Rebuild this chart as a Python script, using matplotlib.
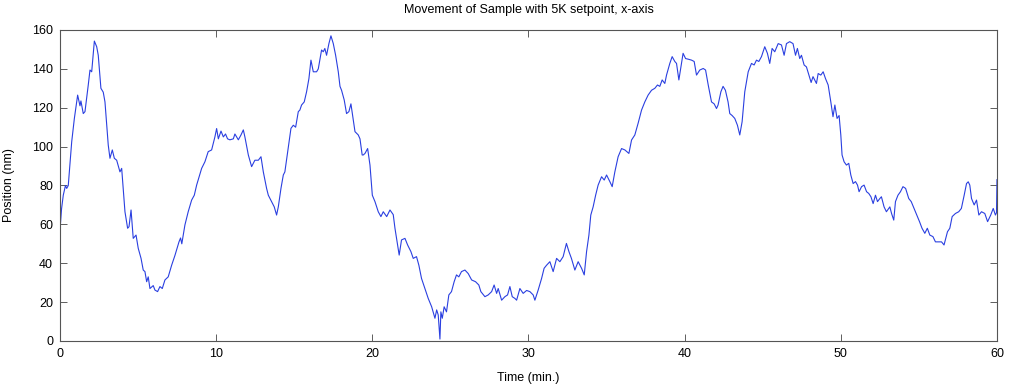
import matplotlib
matplotlib.use("Agg")
import matplotlib.pyplot as plt

# values
time_min = [
    0.00, 0.10, 0.21, 0.35, 0.43, 0.53, 0.75, 0.92, 1.13, 1.28, 1.34, 1.49, 1.60, 1.81, 1.92, 2.03,
    2.20, 2.35, 2.45, 2.62, 2.77, 2.88, 2.99, 3.09, 3.20, 3.35, 3.48, 3.63, 3.84, 3.95, 4.05, 4.16,
    4.33, 4.42, 4.55, 4.69, 4.87, 5.01, 5.19, 5.33, 5.44, 5.55, 5.65, 5.76, 5.97, 6.08, 6.25, 6.40,
    6.55, 6.72, 6.93, 7.15, 7.36, 7.62, 7.72, 7.80, 8.00, 8.21, 8.43, 8.60, 8.75, 9.07, 9.28, 9.49,
    9.71, 9.92, 10.03, 10.14, 10.31, 10.46, 10.60, 10.73, 10.88, 11.10, 11.20, 11.42, 11.59, 11.74,
    11.84, 12.06, 12.27, 12.48, 12.70, 12.87, 13.02, 13.23, 13.34, 13.55, 13.72, 13.87, 13.98, 14.15,
    14.30, 14.40, 14.58, 14.79, 14.94, 15.09, 15.26, 15.36, 15.47, 15.64, 15.79, 15.94, 16.07, 16.22,
    16.43, 16.54, 16.75, 16.86, 16.96, 17.07, 17.22, 17.35, 17.50, 17.65, 17.82, 17.93, 18.03, 18.20,
    18.35, 18.50, 18.63, 18.78, 18.89, 19.10, 19.21, 19.35, 19.42, 19.53, 19.70, 19.85, 20.00, 20.17,
    20.38, 20.55, 20.70, 20.92, 21.13, 21.34, 21.45, 21.62, 21.72, 21.87, 22.09, 22.26, 22.47, 22.62,
    22.83, 22.98, 23.15, 23.37, 23.58, 23.80, 24.01, 24.12, 24.22, 24.33, 24.39, 24.48, 24.60, 24.75,
    24.90, 25.07, 25.24, 25.39, 25.54, 25.71, 25.93, 26.14, 26.36, 26.61, 26.82, 26.95, 27.21, 27.42,
    27.64, 27.80, 27.96, 28.06, 28.28, 28.49, 28.66, 28.81, 28.96, 29.13, 29.24, 29.45, 29.66, 29.88,
    30.09, 30.30, 30.41, 30.62, 30.84, 31.00, 31.16, 31.37, 31.58, 31.80, 32.01, 32.22, 32.43, 32.59,
    32.75, 32.97, 33.18, 33.40, 33.57, 33.72, 33.87, 33.99, 34.14, 34.30, 34.46, 34.68, 34.85, 35.00,
    35.21, 35.36, 35.53, 35.74, 35.96, 36.17, 36.43, 36.60, 36.81, 37.02, 37.24, 37.45, 37.66, 37.88,
    38.09, 38.26, 38.41, 38.56, 38.73, 38.84, 39.05, 39.20, 39.37, 39.48, 39.63, 39.76, 39.90, 40.06,
    40.22, 40.44, 40.61, 40.76, 40.97, 41.19, 41.34, 41.51, 41.72, 41.89, 42.04, 42.14, 42.32, 42.46,
    42.61, 42.78, 42.89, 43.04, 43.21, 43.38, 43.53, 43.68, 43.85, 44.07, 44.28, 44.45, 44.60, 44.75,
    44.92, 45.13, 45.30, 45.45, 45.60, 45.77, 45.99, 46.20, 46.37, 46.52, 46.73, 46.94, 47.10, 47.22,
    47.37, 47.48, 47.65, 47.80, 47.95, 48.10, 48.22, 48.33, 48.44, 48.55, 48.72, 48.87, 49.02, 49.19,
    49.36, 49.50, 49.62, 49.76, 49.89, 50.00, 50.08, 50.21, 50.36, 50.51, 50.64, 50.79, 50.94, 51.07,
    51.17, 51.33, 51.49, 51.65, 51.79, 51.93, 52.07, 52.22, 52.35, 52.50, 52.60, 52.77, 52.92, 53.14,
    53.25, 53.39, 53.50, 53.66, 53.82, 53.98, 54.15, 54.35, 54.51, 54.69, 54.90, 55.04, 55.20, 55.38,
    55.54, 55.70, 55.90, 56.06, 56.23, 56.45, 56.61, 56.83, 56.98, 57.13, 57.34, 57.55, 57.72, 57.90,
    58.05, 58.16, 58.26, 58.37, 58.54, 58.69, 58.84, 59.01, 59.22, 59.40, 59.60, 59.76, 59.90, 59.97,
    60.00,
]
position_nm = [
    57, 68, 75, 80, 78.5, 80, 102.5, 114.5, 126.5, 121, 123.5, 117, 118, 131.7, 139.4, 138.5,
    154.3, 151.4, 147, 130, 128, 123, 111, 100.8, 94, 98.3, 94, 93, 87, 88.8, 78.5, 66.5,
    58, 58.8, 67.4, 52.8, 54.5, 47.7, 42.5, 36.5, 35.7, 30.5, 33, 27, 28.5, 26.2, 25.4, 28,
    27, 31.4, 33, 39, 44, 51, 53, 50, 59.7, 66.5, 72.5, 75, 80.2, 88.8, 92.2, 97.4,
    98.3, 105, 109.3, 104, 108, 105, 106.5, 104, 103.5, 104, 106.5, 103.5, 106, 108.6,
    105, 95.7, 89.7, 93, 93, 94.8, 87, 78.5, 75, 71.7, 69, 64.8, 69, 78.5,
    85.4, 87, 97.4, 109.4, 111, 110, 118, 118.8, 121.4, 123, 128.2, 135, 144.5, 138.5,
    138.5, 140, 149.7, 148.8, 150.5, 147, 153, 157, 153, 147, 138.5, 131, 129, 124,
    117, 118, 122, 113.7, 107.7, 106, 104, 95.7, 95.7, 96.5, 99, 90.5, 75, 71.7,
    66.5, 64, 66.5, 64, 67.4, 65, 58, 49.4, 44.2, 52, 52.8, 49.4, 46, 42.5,
    43.4, 39, 32.2, 27, 21.9, 17.6, 11.7, 16, 13.4, 1, 15, 11.7, 17.6, 15,
    23.7, 25.4, 30.5, 34, 33, 35.7, 36.5, 34.7, 31.4, 30.5, 28.8, 25.4, 22.8, 23.7,
    25.4, 28.8, 24.5, 27, 21, 22.8, 23.7, 28, 22.8, 21.9, 21, 27, 24.5, 26,
    25.4, 23.7, 21, 26.2, 32.2, 37.4, 39, 40.8, 35.7, 42.5, 40.8, 43.4, 50.2, 46,
    42.5, 36.5, 40.8, 37.4, 34, 46, 54.5, 64.8, 69, 75, 80.2, 84.5, 82.8, 85.4,
    82, 79.4, 87, 94.8, 99, 98.3, 96.5, 103.4, 106, 112, 118.8, 123, 126.5, 129,
    130, 131.7, 131, 134.3, 132.5, 136.8, 142.8, 146.3, 143.8, 142.8, 134.3, 141, 148, 145.3,
    145, 144.5, 143.8, 136.8, 139.4, 140.2, 139.4, 131.7, 123, 122, 119.6, 121.4, 128.2, 131,
    129, 123, 117, 116, 114.5, 111, 106, 112.8, 128.2, 138.5, 142.8, 142, 144.5, 143.8,
    146.3, 151.4, 148, 142.8, 150.5, 148.8, 153, 152.3, 147, 153, 154, 153, 147, 150.5,
    145.3, 147, 142, 141, 137, 133, 136, 134.3, 132.5, 137.6, 136.8, 138.5, 135, 131.7,
    123, 115.4, 121.4, 114.5, 116, 106, 95.7, 92.2, 90.5, 91.4, 85.4, 81, 82, 80.2,
    76.8, 79.4, 80.2, 76.8, 75.9, 74.2, 70.7, 75, 71.7, 73.3, 74.2, 69, 66.5, 69,
    65.6, 62.2, 71.7, 75, 76.8, 79.4, 78.5, 73.3, 71.7, 68.2, 64, 61.4, 58, 55.4,
    58, 54.5, 53.7, 51, 51, 51, 49.4, 56.2, 58, 64, 65.6, 66.5, 68.2, 75,
    81, 81.9, 80.2, 73.3, 70, 72.5, 64.8, 66.5, 65.6, 61.4, 64.8, 68.2, 64.8, 66,
    83,
]

x_ticks = [0, 10, 20, 30, 40, 50, 60]
y_ticks = [0, 20, 40, 60, 80, 100, 120, 140, 160]

plt.rcParams['font.family'] = ['Liberation Sans', 'DejaVu Sans']

fig = plt.figure(figsize=(10.1, 3.89), dpi=100)
ax = fig.add_axes([0.0594, 0.1234, 0.9277, 0.7995])

ax.plot(time_min, position_nm, color='#2a3fe0', linewidth=0.8)

ax.set_xlim(0, 60)
ax.set_ylim(0, 160)
ax.set_xticks(x_ticks)
ax.set_yticks(y_ticks)
ax.tick_params(direction='in', top=True, right=True, length=5, width=0.6,
               labelsize=9, color='#444444', pad=5)
for s in ax.spines.values():
    s.set_color('#555555')
    s.set_linewidth(0.8)

ax.set_xlabel('Time (min.)', fontsize=9, labelpad=9)
ax.set_ylabel('Position (nm)', fontsize=9, labelpad=12)
ax.set_title('Movement of Sample with 5K setpoint, x-axis', fontsize=9, pad=12)

fig.savefig('out.png', dpi=100)
